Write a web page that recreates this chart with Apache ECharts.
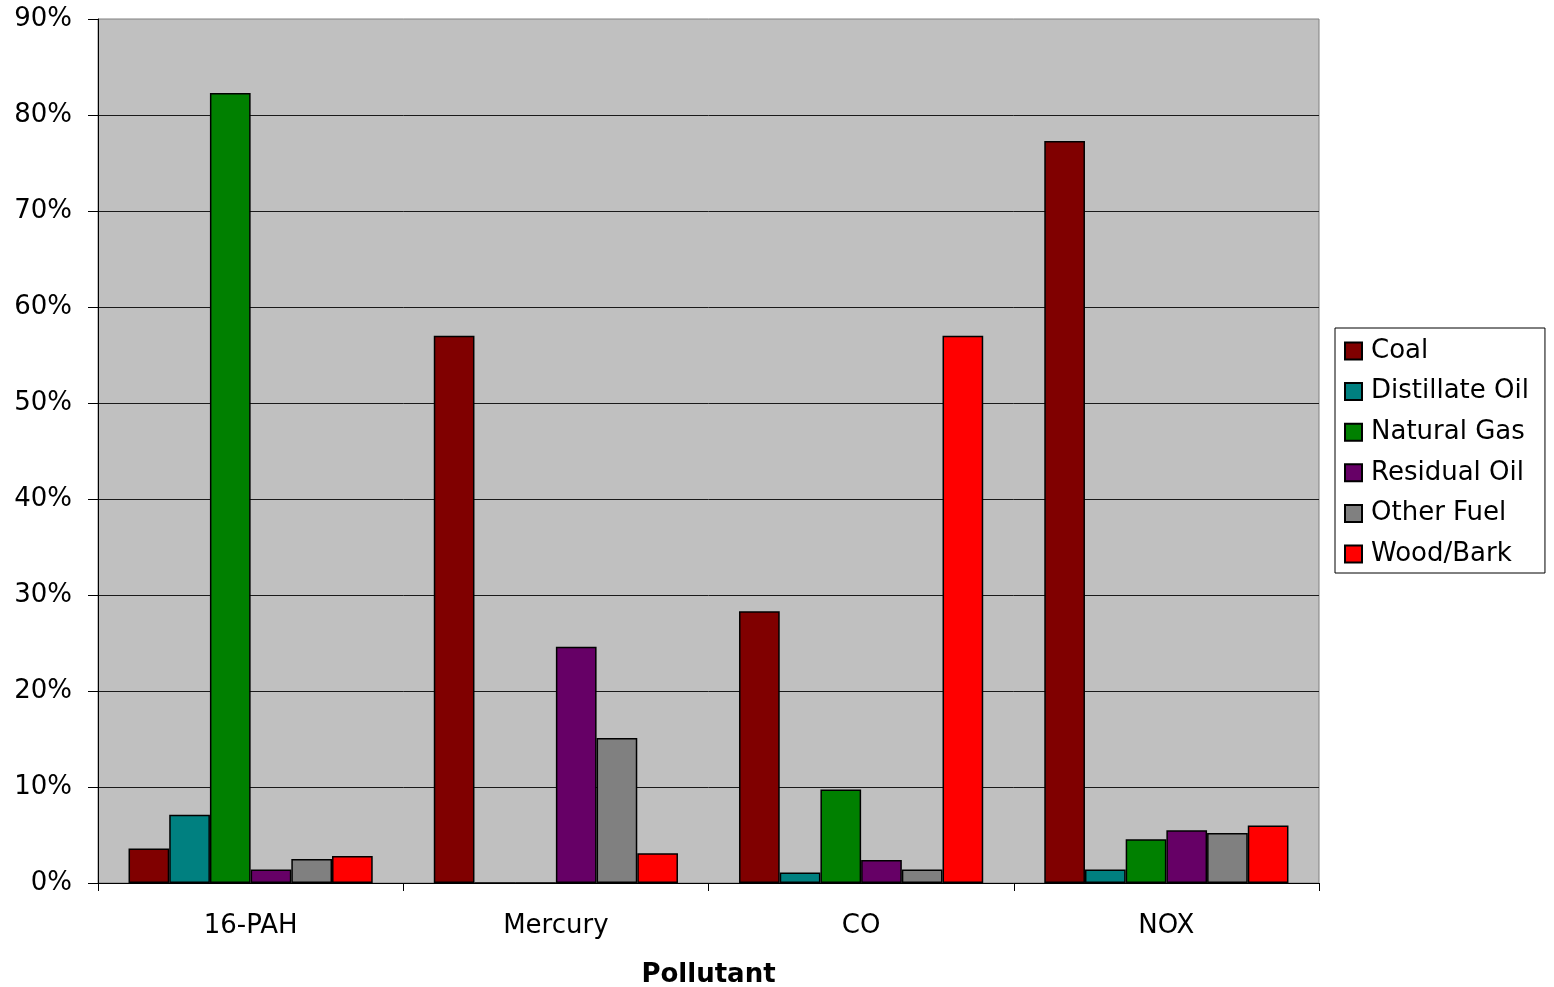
<!DOCTYPE html>
<html>
<head>
<meta charset="utf-8">
<title>Emissions share by fuel type</title>
<script src="https://cdn.jsdelivr.net/npm/echarts@6/dist/echarts.min.js"></script>
<style>
  html, body { margin: 0; padding: 0; background: #ffffff; }
  #chart { width: 1554px; height: 987px; }
</style>
</head>
<body>
<div id="chart"></div>
<script>
// Pollutant categories along the x axis
const pollutants = ['16-PAH', 'Mercury', 'CO', 'NOX'];

// Share of each pollutant's emissions by fuel type (percent)
const coal          = [3.6, 57.0, 28.3, 77.3];
const distillateOil = [7.1, 0, 1.1, 1.4];
const naturalGas    = [82.3, 0, 9.75, 4.55];
const residualOil   = [1.4, 24.6, 2.4, 5.5];
const otherFuel     = [2.5, 15.1, 1.4, 5.2];
const woodBark      = [2.8, 3.1, 57.0, 6.0];

const fuelNames  = ['Coal', 'Distillate Oil', 'Natural Gas', 'Residual Oil', 'Other Fuel', 'Wood/Bark'];
const fuelValues = [coal, distillateOil, naturalGas, residualOil, otherFuel, woodBark];
const fuelColors = ['#800000', '#008080', '#008000', '#660066', '#808080', '#ff0000'];

const FONT = '"DejaVu Sans", sans-serif';

const chart = echarts.init(document.getElementById('chart'), null, { renderer: 'canvas' });

chart.setOption({
  backgroundColor: '#ffffff',
  animation: false,
  grid: {
    left: 98, right: 235, top: 19, bottom: 104,
    containLabel: false,
    outerBoundsMode: 'none',
    show: true,
    backgroundColor: '#c0c0c0',
    borderColor: '#808080',
    borderWidth: 1
  },
  legend: {
    orient: 'vertical',
    left: 1335, top: 328,
    padding: [10, 16, 6, 9],
    itemGap: 14.6,
    itemWidth: 17, itemHeight: 17,
    backgroundColor: '#ffffff',
    borderColor: '#000000',
    borderWidth: 1,
    borderRadius: 0,
    icon: 'rect',
    textStyle: { fontFamily: FONT, fontSize: 26, color: '#000', lineHeight: 26, padding: [0, 0, 0, 4] },
    data: fuelNames
  },
  xAxis: {
    type: 'category',
    data: pollutants,
    name: 'Pollutant',
    nameLocation: 'middle',
    nameGap: 79,
    nameTextStyle: { fontFamily: FONT, fontSize: 26, fontWeight: 'bold', color: '#000' },
    axisLine: { show: true, lineStyle: { color: '#000', width: 1 } },
    axisTick: { show: true, length: 8, lineStyle: { color: '#000' } },
    axisLabel: { fontFamily: FONT, fontSize: 26, color: '#000', margin: 30 },
    splitLine: { show: false }
  },
  yAxis: {
    type: 'value',
    min: 0, max: 90, interval: 10,
    axisLine: { show: true, lineStyle: { color: '#000', width: 1 } },
    axisTick: { show: true, length: 10, lineStyle: { color: '#000' } },
    axisLabel: { fontFamily: FONT, fontSize: 26, color: '#000', margin: 26, padding: [4, 0, 0, 0], formatter: '{value}%' },
    splitLine: { show: true, showMaxLine: false, showMinLine: false, lineStyle: { color: '#1a1a1a', width: 1 } }
  },
  series: fuelNames.map((name, i) => ({
    name: name,
    type: 'bar',
    data: fuelValues[i],
    barGap: '0%',
    barCategoryGap: '20%',
    itemStyle: { color: fuelColors[i], borderColor: '#000', borderWidth: 1.5 }
  }))
});
</script>
</body>
</html>
